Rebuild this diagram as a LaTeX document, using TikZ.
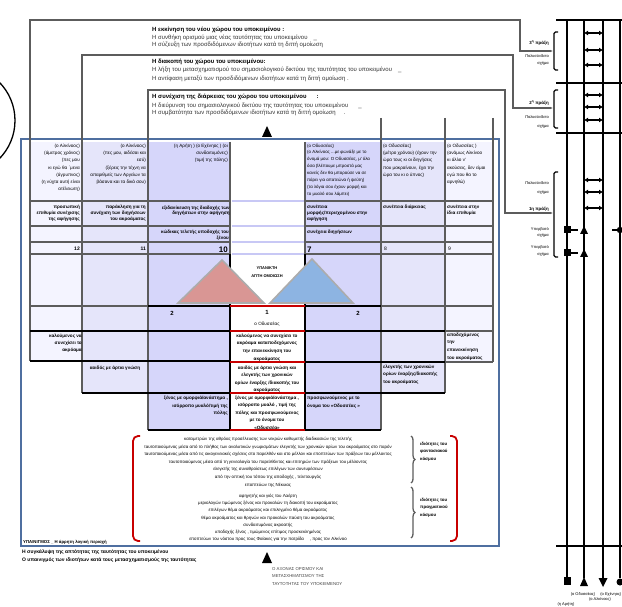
\documentclass[tikz,border=0pt]{standalone}
\usepackage{fontspec}
\setmainfont{Liberation Sans}
\usepackage{tikz}
\usetikzlibrary{calc}
\usetikzlibrary{arrows.meta}
\usetikzlibrary{decorations, decorations.pathreplacing}
\tikzset{>=latex}

\definecolor{lavA}{RGB}{244,244,255}
\definecolor{lavB}{RGB}{229,229,250}
\definecolor{lavC}{RGB}{214,214,250}
\definecolor{lavband}{RGB}{200,200,245}
\definecolor{framebl}{RGB}{79,111,160}
\definecolor{gridgray}{RGB}{92,92,92}
\definecolor{darkred}{RGB}{200,0,0}
\definecolor{trired}{RGB}{217,150,148}
\definecolor{triblue}{RGB}{141,180,226}

\newcommand\boxfont{\fontsize{6}{8}\selectfont}
\newcommand\cellfont{\fontsize{4.6}{7.3}\selectfont}
\newcommand\tagfont{\fontsize{4.6}{6}\selectfont\bfseries}
\newcommand\notefont{\fontsize{4}{6.3}\selectfont}

\tikzset{
	frameline/.style={draw=gridgray,line width=1.1pt},
	gridline/.style={draw=gridgray,line width=2.2pt},
	blackline/.style={draw=black,line width=1.8pt},
	redline/.style={draw=darkred,line width=1.8pt},
	bandline/.style={draw=lavband,line width=2.4pt},
	rail/.style={draw=black,line width=1.8pt},
	rung/.style={draw=black,line width=1.6pt,arrows={Latex[length=4pt,width=5pt]-Latex[length=4pt,width=5pt]}},
	boxtitle/.style={anchor=base west,inner sep=0pt,font=\boxfont\bfseries},
	boxline/.style={anchor=base west,inner sep=0pt,font=\boxfont,text=black!80},
	cellR/.style={anchor=north east,align=right,inner sep=0pt,font=\cellfont},
	cellL/.style={anchor=north west,align=left,inner sep=0pt,font=\cellfont},
	cellC/.style={anchor=north,align=center,inner sep=0pt,font=\cellfont},
	tagR/.style={anchor=north east,align=right,inner sep=0pt,font=\tagfont},
	tagL/.style={anchor=north west,align=left,inner sep=0pt,font=\tagfont},
	numR/.style={anchor=base east,inner sep=0pt,font=\fontsize{5}{5}\selectfont\bfseries},
	numL/.style={anchor=base west,inner sep=0pt,font=\fontsize{5}{5}\selectfont},
	bignum/.style={inner sep=0pt,font=\fontsize{8}{8}\selectfont\bfseries},
	sidelabel/.style={anchor=base east,align=right,inner sep=0pt,font=\notefont},
	tipto/.style={-{Latex[length=3pt,width=2.5pt]}},
}

\begin{document}
\begin{tikzpicture}[x=1pt,y=-1pt]
	\useasboundingbox (0,0) rectangle (622,607);
	\draw[line width=1.3pt] (-39.5,120.5) circle[radius=54.5pt];

	\fill[lavA] (30,142) rectangle (82,361);
	\fill[lavB] (82,142) rectangle (148,393);
	\fill[lavC] (148,142) rectangle (230,430);
	\fill[lavC] (305,142) rectangle (381,430);
	\fill[lavB] (381,142) rectangle (445,393);
	\fill[lavA] (445,142) rectangle (493,362);

	\draw[line width=2pt,framebl] (21,139) rectangle (499,546);

	% boxes on top and their links to the acts
	\coordinate (act3) at (553,51);
	\coordinate (act2) at (553,108);
	\coordinate (act1) at (553,213);
	\coordinate (knee3) at (520,51);
	\coordinate (knee2) at (513,108);
	\coordinate (knee1) at (505,213);
	\draw[frameline,tipto] (30,142) -- (30,20) -| (knee3) -- (act3);
	\draw[frameline,tipto] (82,142) -- (82,55) -| (knee2) -- (act2);
	\draw[frameline,tipto] (148,142) -- (148,90) -| (knee1) -- (act1);

	\node[boxtitle] (t1) at (152,32) {Η εκκίνηση του νέου χώρου του υποκειμένου :};
	\node[boxline] (t1a) at (152,39.5) {Η συνθήκη ορισμού μιας νέας ταυτότητας του υποκειμένου\hspace{6pt}\_};
	\node[boxline] (t1b) at (152,47) {Η σύζευξη των προσδιδόμενων ιδιοτήτων κατά τη διττή ομοίωση};
	\node[boxtitle] (t2) at (152,63.5) {Η διακοπή του χώρου του υποκειμένου:};
	\node[boxline] (t2a) at (152,72) {Η λήξη του μετασχηματισμού του σημασιολογικού δικτύου της ταυτότητας του υποκειμένου\hspace{6pt}\_};
	\node[boxline] (t2b) at (152,81) {Η αντίφαση μεταξύ των προσδιδόμενων ιδιοτήτων κατά τη διττή ομοίωση .};
	\node[boxtitle] (t3) at (152,98.5) {Η συνέχιση της διάρκειας του χώρου του υποκειμένου\hspace{10pt}:};
	\node[boxline] (t3a) at (152,108) {Η διεύρυνση του σημασιολογικού δικτύου της ταυτότητας του υποκειμένου\hspace{10pt}\_};
	\node[boxline] (t3b) at (152,115) {Η συμβατότητα των προσδιδόμενων ιδιοτήτων κατά τη διττή ομοίωση\hspace{8pt}.};

	\fill (262,137) -- (267,126) -- (272,137) -- cycle;

	% grid
	\foreach \x/\a/\b in {30/142/361,82/142/393,148/142/430,230/142/254,305/142/254,381/118/430,445/118/393,493/118/362}
		\draw[gridline] (\x,\a) -- (\x,\b);
	\foreach \y in {201,226,242,254} {
		\draw[gridline] (30,\y) -- (230,\y);
		\draw[gridline] (305,\y) -- (493,\y);
		\draw[bandline] (231.5,\y) -- (303.5,\y);
	}
	\draw[gridline] (30,306) -- (148,306);
	\draw[gridline] (381,306) -- (493,306);
	\draw[gridline] (445,331) -- (493,331);
	\draw[gridline] (445,362) -- (493,362);
	\draw[blackline] (148,306) -- (230,306) (305,306) -- (381,306);
	\draw[blackline] (30,331) -- (230,331) (305,331) -- (445,331);
	\draw[blackline] (30,361) -- (230,361) (305,362) -- (445,362);
	\draw[blackline] (82,393) -- (230,393) (305,393) -- (445,393);
	\draw[blackline] (148,430) -- (230,430) (305,430) -- (381,430);
	\draw[blackline] (230,254) -- (230,430) (305,254) -- (305,430);
	\foreach \y in {306,331,362,393,430}
		\draw[redline] (230,\y) -- (305,\y);

	\filldraw[fill=trired,draw=gray!65,line width=1.6pt] (178,303) -- (222,260) -- (264,303) -- cycle;
	\filldraw[fill=triblue,draw=gray!65,line width=1.6pt] (270,303) -- (312,259) -- (353,303) -- cycle;
	\node[align=center,inner sep=0pt,font=\fontsize{4}{7.5}\selectfont\bfseries] (hint) at (267,272) {ΥΠΑΝΙΚΤΗ\\ΑΠΤΗ ΟΜΟΙΩΣΗ};

	% cells
	\node[cellR] (a12) at (80,143.5) {(ο Αλκίνοος)\\(άμετρος χρόνος)\\(πες μου\\κι εγώ θα ΄μενα\\(άγρυπνος)\\(η νύχτα αυτή είναι\\ατέλειωτη)};
	\node[cellR] (a11) at (146,143.5) {(ο Αλκίνοος)\\(πες μου, αιδέσαι και\\εσύ)\\(ξέρεις την τέχνη να\\απαριθμείς των Αργείων τα\\βάσανα και τα δικά σου)};
	\node[cellR] (a10) at (228,143.5) {(η Αρήτη ) (ο Εχένηος ) (οι\\συνδαιτυμόνες)\\(τιμή της πόλης)};
	\node[cellL,font=\fontsize{4.4}{6.9}\selectfont] (a7) at (307,143.5) {(ο Οδυσσέας)\\(ο Αλκίνοος ...με φωνάξε με το\\όνομά μου: Ο Οδυσσέας, μ' όλα\\όσα βλέπουμε μπροστά μας\\κανείς δεν θα μπορούσε να σε\\πάρει για απατεώνα ή ψεύτη)\\(τα λόγια σου έχουν μορφή και\\το μυαλό σου λάμπει)};
	\node[cellL] (a8) at (383,143.5) {(ο Οδυσσέας)\\(μέτρο χρόνου) (έχουν την\\ώρα τους κι οι διηγήσεις\\που μακραίνουν, έχει την\\ώρα του κι ο ύπνος)};
	\node[cellL] (a9) at (447,143.5) {(ο Οδυσσέας )\\(ανάμως Αλκίνοο\\κι άλλο ν'\\ακούσεις, δεν είμαι\\εγώ που θα το\\αρνηθώ)};

	\node[tagR] (b12) at (80,205) {προσωπική\\επιθυμία συνέχισης\\της αφήγησης};
	\node[tagR] (b11) at (146,205) {παράκληση για τη\\συνέχιση των διηγήσεων\\του ακροάματος};
	\node[tagR,font=\fontsize{4.6}{4.6}\selectfont\bfseries] (b10) at (230,206) {εξιδανίκευση της διαδοχής των\\διηγήσεων στην αφήγηση};
	\node[tagL] (b7) at (307,205) {συνέπεια\\μορφής/περιεχομένου στην\\αφήγηση};
	\node[tagL] (b8) at (383,205) {συνέπεια διάρκειας};
	\node[tagL] (b9) at (447,205) {συνέπεια στην\\ίδια επιθυμία};

	\node[tagR] (c10) at (229,229.5) {κώδικας τελετής υποδοχής του\\ξένου};
	\node[tagL] (c7) at (307,229.5) {συνέχεια διηγήσεων};

	\node[numR] (n12) at (80,251) {12};
	\node[numR] (n11) at (146,251) {11};
	\node[bignum,anchor=base east] (n10) at (228,252.5) {10};
	\node[bignum,anchor=base west] (n7) at (307,252.5) {7};
	\node[numL] (n8) at (384,251) {8};
	\node[numL] (n9) at (448,251) {9};

	\node[bignum,font=\fontsize{6}{6}\selectfont\bfseries,anchor=base] (m2a) at (172,316) {2};
	\node[bignum,font=\fontsize{6}{6}\selectfont\bfseries,anchor=base] (m1) at (267,315) {1};
	\node[bignum,font=\fontsize{6}{6}\selectfont\bfseries,anchor=base] (m2b) at (358,316) {2};
	\node[inner sep=0pt,font=\cellfont,anchor=base] (od) at (267,326) {ο Οδυσσέας};

	\node[cellR,font=\fontsize{4.6}{7.3}\selectfont\bfseries] (d12) at (82,333.5) {καλούμενος να\\συνεχίσει το\\ακρόαμα};
	\node[cellC,font=\fontsize{4.6}{7.7}\selectfont\bfseries] (d1) at (267,333.5) {καλούμενος να συνεχίσει το\\ακρόαμα καταποδεχόμενος\\την επανεκκίνηση του\\ακροάματος};
	\node[cellL,font=\fontsize{4.6}{7.8}\selectfont\bfseries] (d9) at (447,332.5) {αποδεχόμενος\\την\\επανεκκίνηση\\του ακροάματος};

	\node[cellC,font=\fontsize{4.6}{7.3}\selectfont\bfseries] (e11) at (115,365.5) {αοιδός με άρτια γνώση};
	\node[cellC,font=\fontsize{4.6}{7.5}\selectfont\bfseries] (e1) at (267,365.5) {αοιδός με άρτια γνώση και\\ελεγκτής των χρονικών\\ορίων έναρξης /διακοπής του\\ακροάματος};
	\node[cellL,font=\fontsize{4.6}{7.7}\selectfont\bfseries] (e8) at (383,364.5) {ελεγκτής των χρονικών\\ορίων έναρξης/διακοπής\\του ακροάματος};

	\node[cellR,font=\fontsize{4.6}{7.7}\selectfont\bfseries] (f10) at (228,396) {ξένος με ομορφιά/ανάστημα ,\\ισόρροπο μυαλό/τιμή της\\πόλης};
	\node[cellC,font=\fontsize{4.6}{7.5}\selectfont\bfseries] (f1) at (267,395.5) {ξένος με ομορφιά/ανάστημα ,\\ισόρροπο μυαλό , τιμή της\\πόλης και προσφωνούμενος\\με το όνομα του\\«Οδυσσέα»};
	\node[cellL,font=\fontsize{4.6}{7.7}\selectfont\bfseries] (f7) at (307,396) {προσφωνούμενος με το\\όνομα του «Οδυσσέας »};

	% braces and the two lists of properties
	\draw[darkred,line width=1.8pt,rounded corners=5pt] (140,436) -- (133,436) -- (133,541) -- (140,541);
	\draw[darkred,line width=1.8pt,rounded corners=5pt] (450,436) -- (457,436) -- (457,541) -- (450,541);
	\draw[gridgray,line width=1.3pt,decorate,decoration={brace,amplitude=4pt}] (411,436) -- (411,483);
	\draw[gridgray,line width=1.3pt,decorate,decoration={brace,amplitude=4pt}] (411,487) -- (411,538);

	\node[anchor=north,align=center,inner sep=0pt,font=\fontsize{4.4}{7.6}\selectfont] (fant) at (268,437) {καταμετρών της αθρόας προσέλευσης των νεκρών καθυμετής διαδικασιών της τελετής\\ταυτοποιούμενος μέσα από το πλήθος των αναλυτικών γνωρισμάτων ελεγκτής των χρονικών ορίων του ακροάματος στο παρόν\\ταυτοποιούμενος μέσα από τις οικογενειακές σχέσεις στο παρελθόν και στο μέλλον και εποπτεύων των πράξεων του μέλλοντος\\ταυτοποιούμενος μέσα από τη γενεαλογία του παρελθόντος και επιτηρών των πράξεων του μέλλοντος\\ελεγκτής της συναθροίσεως επιλέγων των συνευρέσεων\\από την οπτική του τόπου της αποδοχής , τελετουργός\\εποπτεύων της Νέκυιας};
	\node[anchor=north,align=center,inner sep=0pt,font=\fontsize{4.4}{7.2}\selectfont] (real) at (268,494) {αφηγητής και γιός του Λαέρτη\\μεριολογών τιμώμενος ξένος και προκαλών τη διακοπή του ακροάματος\\επιλέγων θέμα ακροάματος και επιλεγμένο θέμα ακροάματος\\θέμα ακροάματος και θρηνών και προκαλών παύση του ακροάματος\\συνδαιτυμόνας ακροατής\\υποδοχής ξένος , τιμώμενος επίτιμος προσκεκλημένος\\εποπτεύων του νόστου προς τους Φαίακες για την πατρίδα\hspace{6pt}, προς τον Αλκίνοο};
	\node[anchor=north west,align=left,inner sep=0pt,font=\fontsize{4.4}{7.4}\selectfont\bfseries] (pf) at (420,442) {ιδιότητες του\\φαντασιακού\\κόσμου};
	\node[anchor=north west,align=left,inner sep=0pt,font=\fontsize{4.4}{7.4}\selectfont\bfseries] (pr) at (420,498) {ιδιότητες του\\πραγματικού\\κόσμου};

	\node[anchor=base west,inner sep=0pt,font=\fontsize{4.3}{5}\selectfont\bfseries] (hidden) at (23,543) {ΥΠΑΙΝΙΓΜΟΣ \_ Η άρρητη λογική περιοχή};
	\node[anchor=base west,inner sep=0pt,font=\fontsize{5}{5}\selectfont\bfseries] (cover) at (22,553.5) {Η συγκάλυψη της απτότητας της ταυτότητας του υποκειμένου};
	\node[anchor=base west,inner sep=0pt,font=\fontsize{5}{5}\selectfont\bfseries] (hint2) at (22,561) {Ο υπαινιγμός των ιδιοτήτων κατά τους μετασχηματισμούς της ταυτότητας};

	\fill (262,563) -- (267,552) -- (272,563) -- cycle;
	\node[anchor=north west,align=left,inner sep=0pt,font=\fontsize{4.3}{7.5}\selectfont,text=black!75] (axis) at (272,567) {Ο ΑΞΟΝΑΣ ΟΡΙΣΜΟΥ ΚΑΙ\\ΜΕΤΑΣΧΗΜΑΤΙΣΜΟΥ ΤΗΣ\\ΤΑΥΤΟΤΗΤΑΣ ΤΟΥ ΥΠΟΚΕΙΜΕΝΟΥ};

	% the four rails with the three acts
	\foreach \y in {20,83,133,546}
		\draw[rail] (556,\y) -- (622,\y);
	\draw[rail] (567,20) -- (567,578);
	\draw[rail] (584,20) -- (584,578);
	\draw[rail] (603,20) -- (603,579);
	\draw[rail] (620,20) -- (620,578);
	\fill (563.5,577) rectangle (570.5,585);
	\fill (580,586) -- (584,577) -- (588,586) -- cycle;
	\fill (598.5,578) -- (607.5,578) -- (603,587) -- cycle;
	\fill (620,582) circle[radius=3.5pt];
	\foreach \y in {33,50,65,95,107,120,180,192,208}
		\draw[rung] (584,\y) -- (603,\y);
	\foreach \y in {230,253} {
		\fill (563.5,\y-3.5) rectangle (570.5,\y+3.5);
		\draw[rail,line width=1.5pt] (567,\y) -- (578,\y);
		\fill (580,\y+4) -- (584,\y-4) -- (588,\y+4) -- cycle;
	}
	\draw[rail,line width=1.5pt] (612,230) -- (620,230);
	\fill (620,230) circle[radius=3.2pt];

	\foreach \a/\b in {32/70,90/128,172/257}
		\draw[line width=1.3pt,rounded corners=1.5pt] (558,\a) -- (554,\a) -- (554,\b) -- (558,\b);

	\node[sidelabel,font=\fontsize{4.4}{5}\selectfont\bfseries] (p3) at (549,45) {3\textsuperscript{η} πράξη};
	\node[sidelabel] (s3a) at (549,58) {Πολυσύνδετο};
	\node[sidelabel] (s3b) at (549,65) {σχήμα};
	\node[sidelabel,font=\fontsize{4.4}{5}\selectfont\bfseries] (p2) at (549,105) {2\textsuperscript{η} πράξη};
	\node[sidelabel] (s2a) at (549,119) {Πολυσύνδετο};
	\node[sidelabel] (s2b) at (549,128) {σχήμα};
	\node[sidelabel] (s1a) at (549,185) {Πολυσύνδετο};
	\node[sidelabel] (s1b) at (549,194) {σχήμα};
	\node[sidelabel,font=\fontsize{4.4}{5}\selectfont\bfseries] (p1) at (549,211) {1η πράξη};
	\node[sidelabel] (u1a) at (549,231) {Υπερβατό};
	\node[sidelabel] (u1b) at (549,237) {σχήμα};
	\node[sidelabel] (u2a) at (549,249) {Υπερβατό};
	\node[sidelabel] (u2b) at (549,255) {σχήμα};

	\node[anchor=base,inner sep=0pt,font=\notefont] (rOd) at (583,595) {(ο Οδυσσέας)};
	\node[anchor=base east,inner sep=0pt,font=\notefont] (rEx) at (621.5,595) {(ο Εχένηος)};
	\node[anchor=base,inner sep=0pt,font=\notefont] (rAl) at (600,600.5) {(ο Αλκίνοος)};
	\node[anchor=base,inner sep=0pt,font=\notefont] (rAr) at (566,605) {(η Αρήτη)};
\end{tikzpicture}
\end{document}
